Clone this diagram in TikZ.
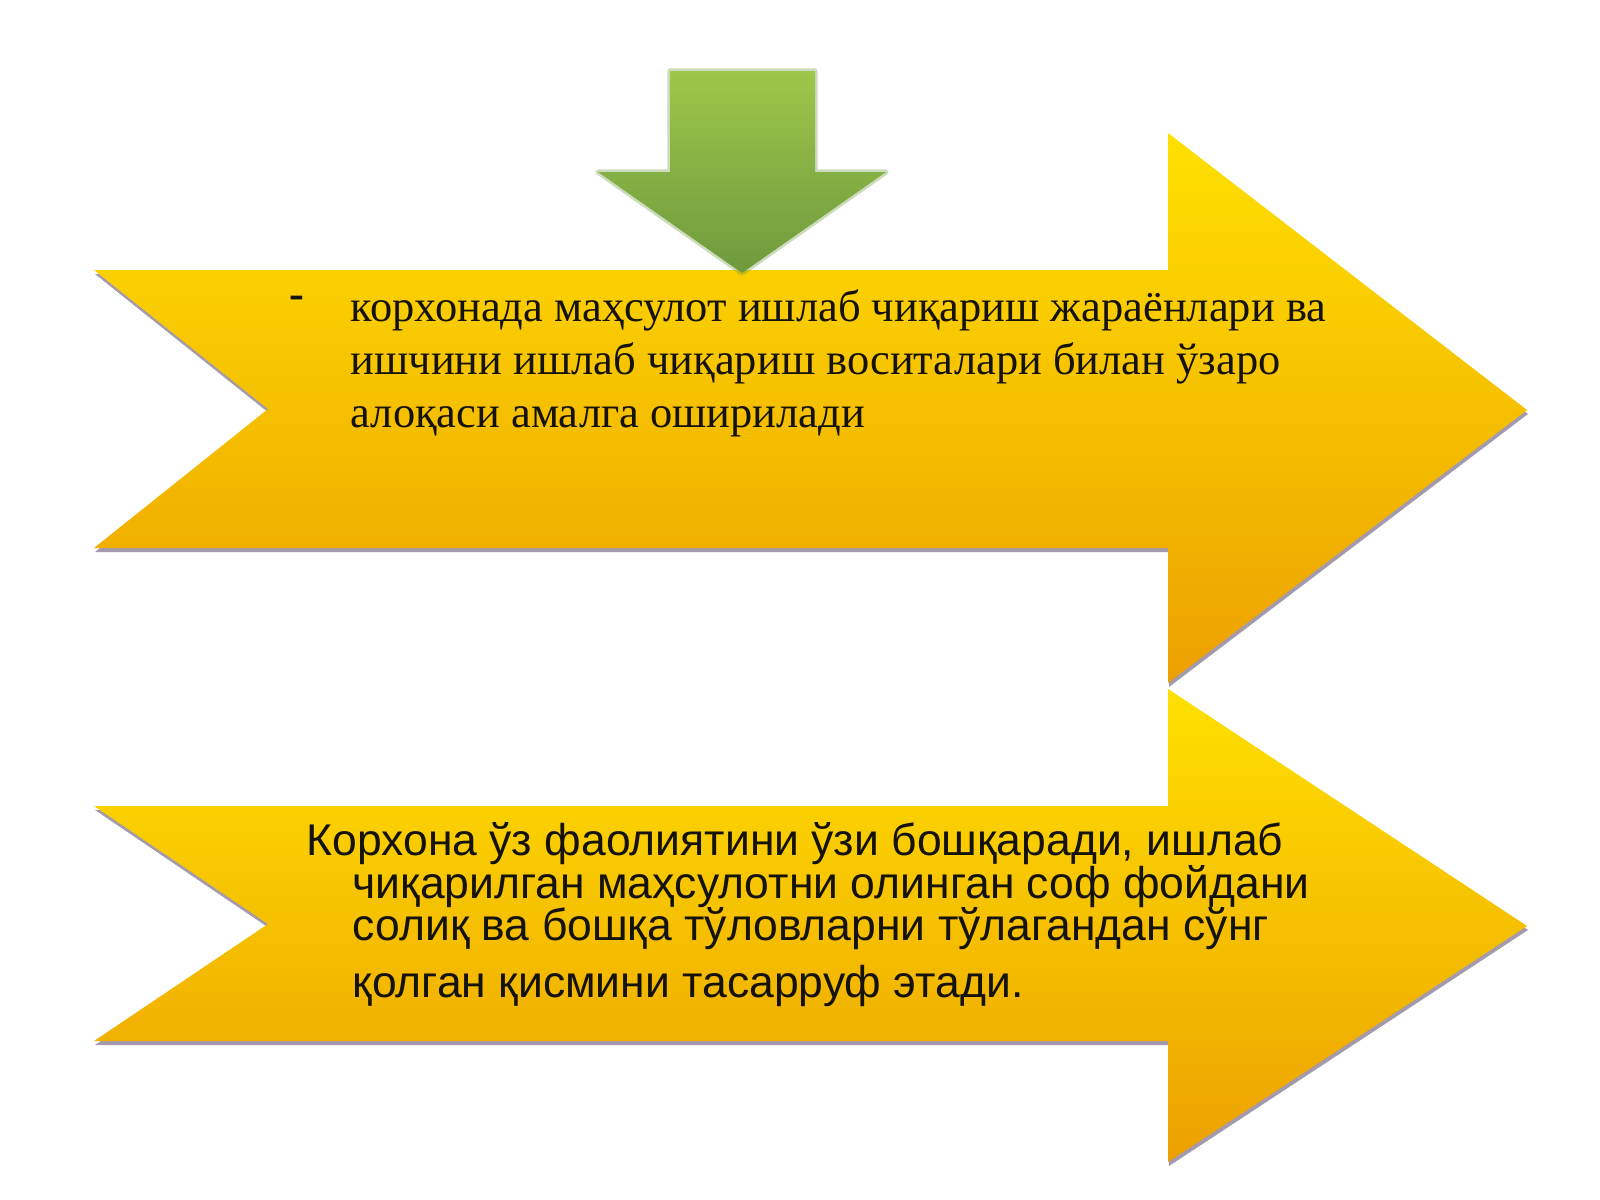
\documentclass[tikz,border=0pt]{standalone}
\usepackage{fontspec}
\setmainfont{Liberation Serif}
\newfontfamily\sansfam{Liberation Sans}
\usetikzlibrary{calc}
\definecolor{ylwtop}{HTML}{FFE000}
\definecolor{ylwmid}{HTML}{F9C600}
\definecolor{ylwbot}{HTML}{ECA000}
\definecolor{shadowc}{HTML}{A49AAE}
\definecolor{grntop}{HTML}{9DC74A}
\definecolor{grnbot}{HTML}{6E9A3E}
\definecolor{txtc}{HTML}{151208}
\begin{document}
\begin{tikzpicture}[x=0.01cm,y=-0.01cm,
  yarrow/.style={shade, top color=ylwtop, middle color=ylwmid, bottom color=ylwbot},
  yshadow/.style={fill=shadowc},
  serifline/.style={anchor=base west, inner sep=0pt, text=txtc, font=\fontsize{12.65}{15}\selectfont},
  sansline/.style={anchor=base west, inner sep=0pt, text=txtc, font=\sansfam\fontsize{12.65}{15}\selectfont}
]
\useasboundingbox (0,0) rectangle (1600,1200);
\fill[white] (0,0) rectangle (1600,1200);

% ---------- top yellow arrow ----------
\coordinate (ta1) at (94,270);
\coordinate (ta2) at (1168,270);
\coordinate (ta3) at (1168,133);
\coordinate (ta4) at (1527,410);
\coordinate (ta5) at (1168,683);
\coordinate (ta6) at (1168,548);
\coordinate (ta7) at (94,548);
\coordinate (ta8) at (268,409);
\fill[yshadow] ($(ta1)+(1,4)$) -- ($(ta2)+(1,4)$) -- ($(ta3)+(1,4)$) -- ($(ta4)+(1,4)$) -- ($(ta5)+(1,4)$) -- ($(ta6)+(1,4)$) -- ($(ta7)+(1,4)$) -- ($(ta8)+(1,4)$) -- cycle;
\path[yarrow] (ta1) -- (ta2) -- (ta3) -- (ta4) -- (ta5) -- (ta6) -- (ta7) -- (ta8) -- cycle;

% ---------- bottom yellow arrow ----------
\coordinate (ba1) at (94,806);
\coordinate (ba2) at (1168,806);
\coordinate (ba3) at (1168,689);
\coordinate (ba4) at (1527,926);
\coordinate (ba5) at (1168,1162);
\coordinate (ba6) at (1168,1041);
\coordinate (ba7) at (94,1041);
\coordinate (ba8) at (268,924);
\fill[yshadow] ($(ba1)+(1,4)$) -- ($(ba2)+(1,4)$) -- ($(ba3)+(1,4)$) -- ($(ba4)+(1,4)$) -- ($(ba5)+(1,4)$) -- ($(ba6)+(1,4)$) -- ($(ba7)+(1,4)$) -- ($(ba8)+(1,4)$) -- cycle;
\path[yarrow] (ba1) -- (ba2) -- (ba3) -- (ba4) -- (ba5) -- (ba6) -- (ba7) -- (ba8) -- cycle;

% ---------- green down arrow ----------
\coordinate (g1) at (670,71);
\coordinate (g2) at (815,71);
\coordinate (g3) at (815,172);
\coordinate (g4) at (886,172);
\coordinate (g5) at (742,273);
\coordinate (g6) at (598,172);
\coordinate (g7) at (670,172);
\draw[grnbot, line width=1.5, draw opacity=0.35, line join=round] (g1) -- (g2) -- (g3) -- (g4) -- (g5) -- (g6) -- (g7) -- cycle;
\path[shade, top color=grntop, bottom color=grnbot] (g1) -- (g2) -- (g3) -- (g4) -- (g5) -- (g6) -- (g7) -- cycle;

% ---------- top text ----------
\node[anchor=center, inner sep=0pt, text=txtc, font=\bfseries\fontsize{12.65}{15}\selectfont] (dash) at (297,302) {-};
\node[serifline] (t1) at (350,321) {корхонада маҳсулот ишлаб чиқариш жараёнлари ва};
\node[serifline] (t2) at (350,374) {ишчини ишлаб чиқариш воситалари билан ўзаро};
\node[serifline] (t3) at (350,427) {алоқаси амалга оширилади};

% ---------- bottom text ----------
\node[sansline] (b1) at (306,855) {Корхона ўз фаолиятини ўзи бошқаради, ишлаб};
\node[sansline] (b2) at (352,898) {чиқарилган маҳсулотни олинган соф фойдани};
\node[sansline] (b3) at (352,940) {солиқ ва бошқа тўловларни тўлагандан сўнг};
\node[sansline] (b4) at (352,997) {қолган қисмини тасарруф этади.};
\end{tikzpicture}
\end{document}
